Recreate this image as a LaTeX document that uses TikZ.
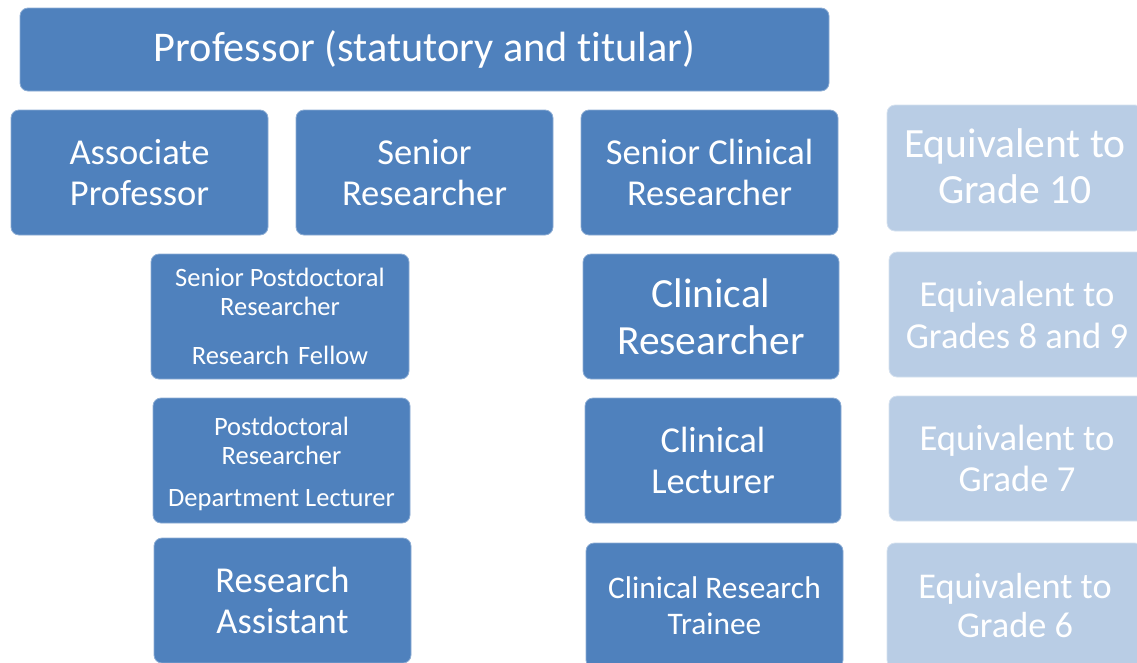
\documentclass[tikz,border=0pt]{standalone}
\usepackage{fontspec}
\setmainfont[Ligatures=NoCommon]{Carlito}
\definecolor{dblue}{HTML}{4F81BD}
\definecolor{lblue}{HTML}{B9CDE5}
\begin{document}
\begin{tikzpicture}[x=1pt,y=-1pt,
  box/.style={rounded corners=8pt, fill=dblue, draw=dblue!65!white, line width=0.8pt,
    text=white, align=center, inner sep=0pt, outer sep=0pt,
    minimum width=257pt, minimum height=125pt},
  lbox/.style={box, fill=lblue, draw=lblue!60!white},
  fxl/.style={font=\fontsize{42.3}{46}\selectfont},
  fl/.style={font=\fontsize{41.5}{46.5}\selectfont},
  fm/.style={font=\fontsize{36.5}{41.5}\selectfont},
  fs/.style={font=\fontsize{26.5}{28.7}\selectfont},
  ft/.style={font=\fontsize{31.4}{36}\selectfont}
  ]
\useasboundingbox (0,0) rectangle (1137,662);
\clip (0,0) rectangle (1137,662);
% top row
\node[box, fxl, minimum width=809pt, minimum height=83pt] (prof) at (424.5,49.5) {Professor (statutory and titular)};
\node[box, fm] (assoc) at (139.5,172.5) {Associate\\Professor};
\node[box, fm] (senres) at (424.5,172.5) {Senior\\Researcher};
\node[box, fm] (senclin) at (709.5,172.5) {Senior Clinical\\Researcher};
\node[lbox, font=\fontsize{41.6}{46}\selectfont, minimum width=256pt, minimum height=126pt] (eq10) at (1015,168) {Equivalent to\\Grade 10\rule[-4pt]{0pt}{0pt}};
% second row
\node[box, fs, minimum width=258pt] (spdr) at (280,316.5) {Senior Postdoctoral\\Researcher\\[20pt]Research\hspace{9pt}Fellow};
\node[box, fl, minimum width=256pt] (clinres) at (711,316.5) {Clinical\\Researcher};
\node[lbox, font=\fontsize{36.6}{42}\selectfont, minimum width=256pt] (eq89) at (1017,314.5) {Equivalent to\\Grades 8 and 9};
% third row
\node[box, fs] (pdr) at (281.5,460.5) {\rule{0pt}{25pt}Postdoctoral\\Researcher\\[13pt]Department Lecturer};
\node[box, fm, minimum width=256pt] (clinlec) at (713,460.5) {Clinical\\Lecturer};
\node[lbox, font=\fontsize{36.6}{41}\selectfont, minimum width=256pt] (eq7) at (1017,458.5) {Equivalent to\\Grade 7};
% fourth row
\node[box, fm] (ra) at (282.5,600.5) {Research\\Assistant};
\node[box, ft] (crt) at (714.5,605.5) {Clinical Research\\Trainee};
\node[lbox, font=\fontsize{36.3}{38.5}\selectfont, minimum width=256pt] (eq6) at (1015,605.5) {Equivalent to\\Grade 6};
\end{tikzpicture}
\end{document}
